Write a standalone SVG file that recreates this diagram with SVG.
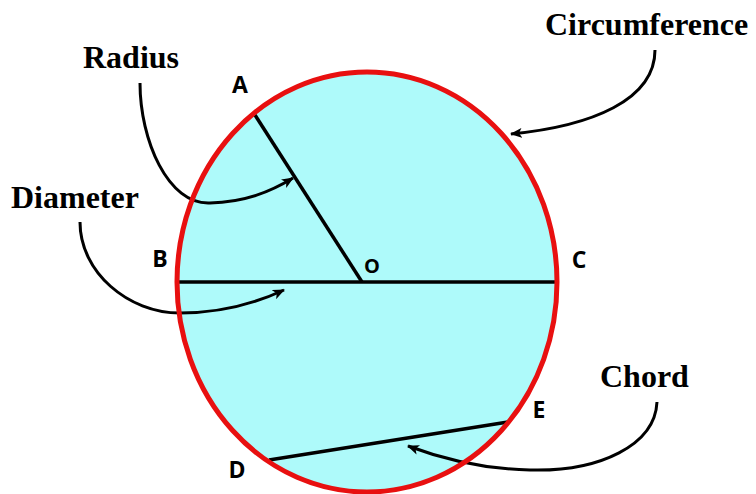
<svg xmlns="http://www.w3.org/2000/svg" width="756" height="494" viewBox="0 0 756 494">
<style>
.term{font-family:"Liberation Serif","Times New Roman",serif;font-weight:bold;font-size:32px;fill:#000}
.pt{font-family:"Open Sans","Liberation Sans",sans-serif;font-weight:bold;font-size:23px;fill:#000;text-anchor:middle}
.seg{stroke:#000;stroke-width:3.5;fill:none;stroke-linecap:butt}
.conn{stroke:#000;stroke-width:3;fill:none}
</style>
<defs>
<marker id="ah" viewBox="0 0 12 10" refX="11" refY="5" markerWidth="12" markerHeight="10" markerUnits="userSpaceOnUse" orient="auto">
<path d="M0,0 L12,5 L0,10 L3,5 Z" fill="#000"/>
</marker>
</defs>
<rect width="756" height="494" fill="#fff"/>
<g id="circle-fill">
<ellipse cx="367" cy="282" rx="190" ry="210" fill="#aefafa"/>
</g>
<g id="segments">
<line class="seg" x1="255" y1="115" x2="362" y2="282"/>
<line class="seg" x1="178" y1="282" x2="556" y2="282"/>
<line class="seg" x1="269" y1="460" x2="508" y2="422"/>
</g>
<g id="connectors">
<path class="conn" marker-end="url(#ah)" d="M140,83 C140,140 168,205 210,203 C245,202 270,192 293,178"/>
<path class="conn" marker-end="url(#ah)" d="M80,222 C80,272 128,313 180,313 C220,313 256,303 284,290"/>
<path class="conn" marker-end="url(#ah)" d="M655,50 C655,100 592,126 511,134"/>
<path class="conn" marker-end="url(#ah)" d="M657,402 C655,445 600,472 530,470 C480,469 440,458 408,446"/>
</g>
<g id="circumference">
<ellipse cx="367" cy="282" rx="190" ry="210" fill="none" stroke="#e81010" stroke-width="5"/>
</g>
<g id="label-radius"><text class="term" x="83" y="68">Radius</text></g>
<g id="label-diameter"><text class="term" x="11" y="208">Diameter</text></g>
<g id="label-circumference"><text class="term" x="545" y="35">Circumference</text></g>
<g id="label-chord"><text class="term" x="600" y="387">Chord</text></g>
<g id="point-A"><text class="pt" x="240" y="93">A</text></g>
<g id="point-B"><text class="pt" x="160" y="267">B</text></g>
<g id="point-O"><text class="pt" x="372" y="273" style="font-size:20px">O</text></g>
<g id="point-C"><text class="pt" x="579" y="268">C</text></g>
<g id="point-D"><text class="pt" x="237" y="478">D</text></g>
<g id="point-E"><text class="pt" x="539" y="418">E</text></g>
</svg>
